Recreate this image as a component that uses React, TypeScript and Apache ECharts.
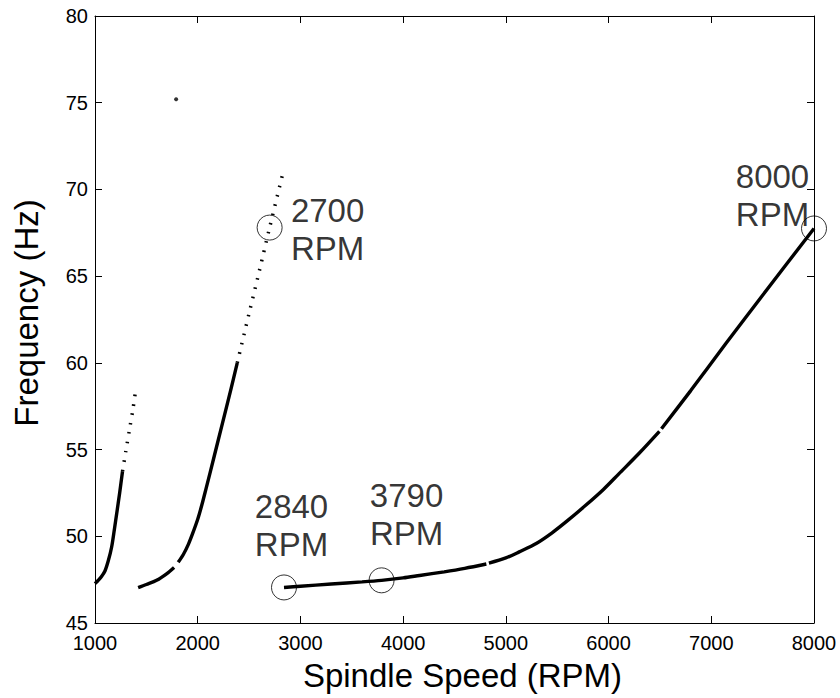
import React, { useEffect, useRef } from "react";
import * as echarts from "echarts";

const FONT = '"Liberation Sans", Arial, Helvetica, sans-serif';

// Axis ticks
const xTicks = { min: 1000, max: 8000, interval: 1000 };
const yTicks = { min: 45, max: 80, interval: 5 };

// Branch 1 (lowest speeds)
const branch1Solid: [number, number][] = [
  [1000, 47.27], [1030, 47.45], [1060, 47.65], [1097, 48.0], [1130, 48.6],
  [1162, 49.38], [1190, 50.45], [1211, 51.3], [1240, 52.5], [1268, 53.75],
];
const branch1Dotted: [number, number][] = [
  [1268, 53.75], [1300, 54.9], [1340, 56.3], [1370, 57.35], [1400, 58.6],
];

// Branch 2
const branch2SolidA: [number, number][] = [
  [1420, 47.04], [1500, 47.22], [1600, 47.46], [1700, 47.85], [1770, 48.2],
];
const branch2SolidB: [number, number][] = [
  [1810, 48.5], [1860, 48.95], [1910, 49.55], [1950, 50.15], [2000, 50.98],
  [2040, 51.8], [2080, 52.72], [2160, 54.6], [2240, 56.5], [2320, 58.4], [2385, 60.0],
];
const branch2Dotted: [number, number][] = [
  [2385, 60.0], [2500, 62.85], [2600, 65.3], [2700, 67.8], [2830, 70.95],
];

// Main branch
const mainA: [number, number][] = [
  [2840, 47.05], [3000, 47.12], [3300, 47.25], [3600, 47.37], [3790, 47.46],
  [4000, 47.6], [4160, 47.74], [4400, 47.95], [4600, 48.15], [4810, 48.4],
];
const mainB: [number, number][] = [
  [4835, 48.45], [5000, 48.75], [5130, 49.1], [5300, 49.6], [5450, 50.2],
  [5600, 50.9], [5780, 51.8], [5950, 52.7], [6100, 53.6], [6300, 54.8], [6495, 56.05],
];
const mainC: [number, number][] = [
  [6515, 56.2], [6800, 58.4], [7140, 61.1], [7500, 63.9], [8000, 67.75],
];

// Isolated point
const isolatedPoint: [number, number][] = [[1790, 75.2]];

// Marked speeds
const markSpeeds = [2700, 2840, 3790, 8000];
const markFreqs = [67.8, 47.05, 47.46, 67.75];
const markLabels = ["2700\nRPM", "2840\nRPM", "3790\nRPM", "8000\nRPM"];
const markLabelOffsets: [number, number][] = [
  [58, 58], [7.5, -5.5], [25, -10.3], [-41.5, 23.5],
];

const solidSegments = [branch1Solid, branch2SolidA, branch2SolidB, mainA, mainB, mainC];
const dottedSegments = [branch1Dotted, branch2Dotted];

export default function App() {
  const ref = useRef<HTMLDivElement>(null);
  useEffect(() => {
    const chart = echarts.init(ref.current!, null, { renderer: "svg" });
    const axisCommon = {
      type: "value" as const,
      axisLine: { show: true, onZero: false, lineStyle: { color: "#000", width: 1 } },
      axisTick: { show: true, inside: true, length: 7, lineStyle: { color: "#000", width: 1 } },
      splitLine: { show: false },
    };
    const series: any[] = [];
    solidSegments.forEach((seg) =>
      series.push({
        type: "line",
        data: seg,
        symbol: "none",
        showSymbol: false,
        silent: true,
        clip: false,
        smooth: 0.3,
        lineStyle: { color: "#000", width: 3.4, cap: "butt" },
      })
    );
    dottedSegments.forEach((seg) =>
      series.push({
        type: "line",
        data: seg,
        symbol: "none",
        showSymbol: false,
        silent: true,
        clip: false,
        smooth: 0.3,
        lineStyle: { color: "#000", width: 3.5, type: [1.6, 7.9], cap: "butt" },
      })
    );
    series.push({
      type: "scatter",
      clip: false,
      silent: true,
      symbol: "circle",
      symbolSize: 25,
      itemStyle: { color: "rgba(0,0,0,0)", borderColor: "#000", borderWidth: 1 },
      data: markSpeeds.map((s, i) => ({
        value: [s, markFreqs[i]],
        label: {
          show: true,
          position: "top",
          offset: markLabelOffsets[i],
          formatter: markLabels[i],
          color: "#000",
          fontSize: 33,
          lineHeight: 38,
          fontFamily: FONT,
          align: "center",
        },
      })),
    });
    series.push({
      type: "scatter",
      silent: true,
      symbol: "circle",
      symbolSize: 4,
      itemStyle: { color: "#000" },
      data: isolatedPoint,
    });

    chart.setOption({
      animation: false,
      backgroundColor: "#fff",
      grid: { left: 95, right: 26, top: 16, bottom: 75 },
      xAxis: [
        {
          ...axisCommon,
          ...xTicks,
          position: "bottom",
          axisLabel: {
            color: "#000",
            fontSize: 20,
            fontFamily: FONT,
            margin: 10,
            formatter: (v: number) => String(v),
          },
          name: "Spindle Speed (RPM)",
          nameLocation: "middle",
          nameGap: 36,
          nameTextStyle: { color: "#000", fontSize: 33, fontFamily: FONT, padding: [0, 0, 0, 16] },
        },
        {
          ...axisCommon,
          ...xTicks,
          position: "top",
          axisLabel: { show: false },
        },
      ],
      yAxis: [
        {
          ...axisCommon,
          ...yTicks,
          position: "left",
          axisLabel: {
            color: "#000",
            fontSize: 20,
            fontFamily: FONT,
            margin: 7,
            formatter: (v: number) => String(v),
          },
          name: "Frequency (Hz)",
          nameLocation: "middle",
          nameGap: 52,
          nameTextStyle: { color: "#000", fontSize: 33, fontFamily: FONT, padding: [0, 0, 0, 13] },
        },
        {
          ...axisCommon,
          ...yTicks,
          position: "right",
          axisLabel: { show: false },
        },
      ],
      series,
    });
    return () => chart.dispose();
  }, []);
  return (
    <div
      ref={ref}
      style={{ position: "fixed", left: 0, top: 0, width: 840, height: 698, background: "#fff" }}
    />
  );
}
